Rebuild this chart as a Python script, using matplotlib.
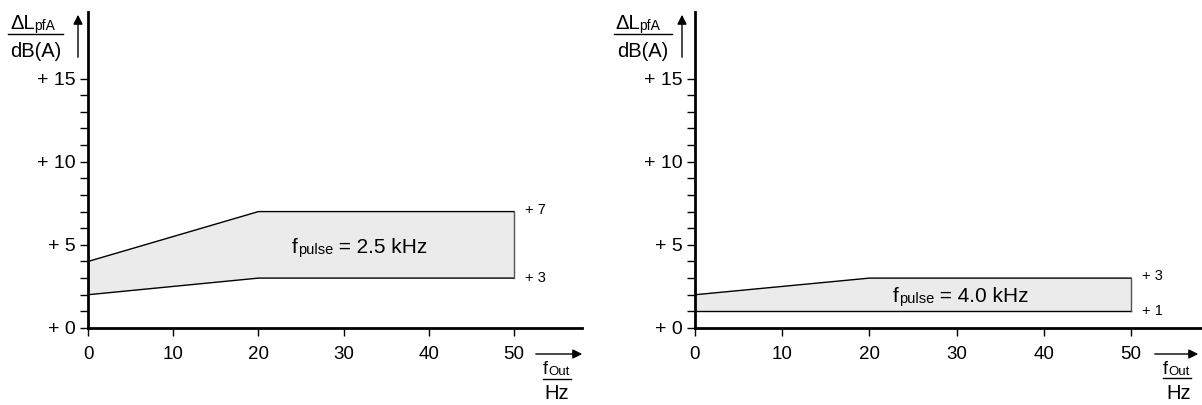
import numpy as np
import matplotlib.pyplot as plt
from matplotlib.lines import Line2D
from matplotlib.text import Annotation

plt.rcParams['font.family'] = ['Liberation Sans', 'DejaVu Sans']

# data: band of level increase vs output frequency
f_knots = [0, 20, 50]
upper_25 = [4, 7, 7]
lower_25 = [2, 3, 3]
upper_40 = [2, 3, 3]
lower_40 = [1, 1, 1]
x_ticks = [0, 10, 20, 30, 40, 50]
y_ticks = [0, 5, 10, 15]
y_ticklabels = ["+ 0", "+ 5", "+ 10", "+ 15"]

W, H = 1202, 405
fig = plt.figure(figsize=(W / 100, H / 100), dpi=100)


def px(x, y):
    return x / W, 1 - y / H


def rich(x, y, parts):
    # text pieces of mixed sizes sharing a baseline, starting at pixel (x, y)
    prev = fig.text(*px(x, y), parts[0][0], fontsize=parts[0][1], ha='left', va='baseline')
    for txt, size in parts[1:]:
        a = Annotation(txt, xy=(1, 0), xycoords=prev, fontsize=size,
                       ha='left', va='bottom', annotation_clip=False)
        fig.add_artist(a)
        prev = a
    return prev


def arrow(x0, y0, x1, y1):
    a = Annotation('', xy=(x1, H - y1), xytext=(x0, H - y0), xycoords='figure pixels',
                   annotation_clip=False,
                   arrowprops=dict(arrowstyle='-|>', color='black', lw=1, mutation_scale=14))
    fig.add_artist(a)


def hline(x0, x1, y):
    fig.add_artist(Line2D([x0 / W, x1 / W], [1 - y / H, 1 - y / H], color='black', lw=1))


def panel(x0, xscale, upper, lower, txt_up, txt_lo):
    left, bottom = px(x0, 328)
    width = 58 * xscale / W
    height = (328 - 12) / H
    ax = fig.add_axes([left, bottom, width, height])
    ax.set_xlim(0, 58)
    ax.set_ylim(0, 19)
    for s in ['top', 'right']:
        ax.spines[s].set_visible(False)
    ax.spines['left'].set_linewidth(2)
    ax.spines['bottom'].set_linewidth(2)

    xs = f_knots + f_knots[::-1]
    ys = upper + lower[::-1]
    ax.fill(xs, ys, facecolor='#ebebeb', edgecolor='none', zorder=1)
    ax.plot(f_knots, upper, color='black', lw=1, zorder=2)
    ax.plot(f_knots, lower, color='black', lw=1, zorder=2)
    ax.plot([50, 50], [lower[-1], upper[-1]], color='#555555', lw=1, zorder=2)

    ax.set_xticks(x_ticks)
    ax.set_xticklabels([str(v) for v in x_ticks], fontsize=13.5)
    ax.set_yticks(y_ticks)
    ax.set_yticklabels(y_ticklabels, fontsize=14)
    ax.set_yticks(range(0, 16), minor=True)
    ax.tick_params(axis='y', which='both', length=6, width=1, pad=3)
    ax.tick_params(axis='x', length=6, width=1, pad=7)

    ax.text(51.3, upper[-1] + 0.1, txt_up, fontsize=10.5, va='center', ha='left')
    ax.text(51.3, lower[-1], txt_lo, fontsize=10.5, va='center', ha='left')
    return ax


ax1 = panel(88, 8.52, upper_25, lower_25, "+ 7", "+ 3")
ax2 = panel(695, 8.72, upper_40, lower_40, "+ 3", "+ 1")

# band labels
rich(292, 253, [("f", 15), ("pulse", 10.5), (" = 2.5 kHz", 15)])
rich(893, 302, [("f", 15), ("pulse", 10.5), (" = 4.0 kHz", 15)])


def axis_labels(ystart, line_x0, line_x1, yarr_x, xarr_x0, xarr_x1, xlab_x0, xline_y, hz_cx):
    # y label as fraction with arrow
    rich(ystart, 29, [("\u0394L", 14.5), ("pfA", 10)])
    hline(line_x0, line_x1, 34)
    fig.text(*px((line_x0 + line_x1) / 2, 57), "dB(A)", fontsize=14.5, ha='center', va='baseline')
    arrow(yarr_x, 60, yarr_x, 12)
    # x label as fraction with arrow
    arrow(xarr_x0, 354, xarr_x1, 354)
    rich(xlab_x0, 374, [("f", 13), ("Out", 9.5)])
    hline(xlab_x0, xlab_x0 + 28, xline_y)
    fig.text(*px(hz_cx, 399), "Hz", fontsize=14.5, ha='center', va='baseline')


axis_labels(10, 8, 63, 78, 533, 585, 543, 379, 557)
axis_labels(615, 614, 672, 682, 1152, 1201, 1163, 378, 1179)

fig.savefig("out.png", dpi=100)
